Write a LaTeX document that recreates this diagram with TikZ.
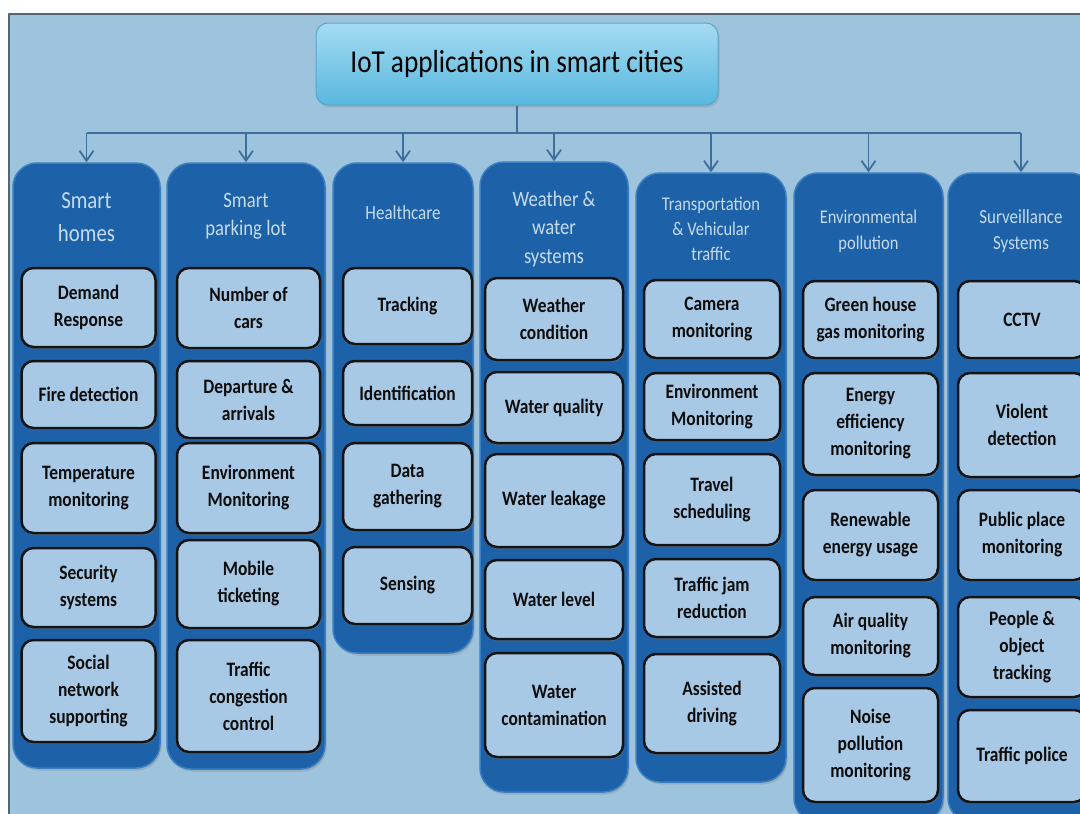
\documentclass[tikz,border=0pt]{standalone}
\usepackage{fontspec}
\setmainfont{Carlito}[FakeStretch=0.85]
\usepackage{tikz}
\usetikzlibrary{arrows.meta,shadows}

\definecolor{bgblue}{HTML}{9DC3DD}
\definecolor{framegray}{HTML}{56656F}
\definecolor{colblue}{HTML}{1D62A8}
\definecolor{coledge}{HTML}{3B7FC2}
\definecolor{itemblue}{HTML}{A8C9E5}
\definecolor{headtext}{HTML}{C6DAED}
\definecolor{linkblue}{HTML}{3D6F9C}
\definecolor{titletop}{HTML}{A4DBF1}
\definecolor{titlebot}{HTML}{58B8DF}
\definecolor{titleedge}{HTML}{5AA5CB}

\begin{document}
\begin{tikzpicture}[x=1pt,y=-1pt,>={Straight Barb[length=10pt,width=14pt]},line join=round]
\tikzstyle{group}=[draw=coledge,line width=1.5pt,fill=colblue,rounded corners=24pt,inner sep=0pt,
                   drop shadow={shadow xshift=1.5pt,shadow yshift=-2.5pt,opacity=0.3}]
\tikzstyle{grouphead}=[text=headtext,align=center,inner sep=0pt]
\tikzstyle{item}=[draw=black!92,line width=2.5pt,fill=itemblue,rounded corners=12pt,align=center,inner sep=2pt,
                  font=\fontsize{20.5}{27}\selectfont\bfseries,text=black!95,
                  drop shadow={shadow xshift=1pt,shadow yshift=-2pt,opacity=0.5}]
\tikzstyle{topic}=[draw=titleedge,line width=1pt,top color=titletop,bottom color=titlebot,rounded corners=12pt,
                   font=\fontsize{32}{38}\selectfont,text=black,
                   drop shadow={shadow xshift=1.5pt,shadow yshift=-2.5pt,opacity=0.25}]
\tikzstyle{link}=[draw=linkblue,line width=1.8pt]

  \useasboundingbox (0,0) rectangle (1080,814);
  \clip (0,0) rectangle (1080,814);
  \fill[white] (0,0) rectangle (1080,814);
  \fill[bgblue] (9,14) rectangle (1080,814);
  \draw[framegray,line width=2.5pt] (9,814) -- (9,14) -- (1080,14);

        \node[topic,minimum width=402pt,minimum height=82pt]     (title)   at (517,64)      {IoT applications in smart cities};

        % columns
        \node[group,minimum width=147pt,minimum height=605pt]    (home)    at (86.5,465.5)  {};
        \node[group,minimum width=158pt,minimum height=606pt]    (park)    at (246,466)     {};
        \node[group,minimum width=140pt,minimum height=490pt]    (health)  at (403,408)     {};
        \node[group,minimum width=148pt,minimum height=630pt]    (water)   at (554,477)     {};
        \node[group,minimum width=150pt,minimum height=609pt]    (traffic) at (711,477.5)   {};
        \node[group,minimum width=149pt,minimum height=649pt]    (env)     at (868.5,497.5) {};
        \node[group,minimum width=146pt,minimum height=649pt]    (surv)    at (1021,497.5)  {};

        \node[grouphead,font=\fontsize{24.5}{33}\selectfont]   (homehd)    at (86.5,217.5) {Smart\\homes};
        \node[grouphead,font=\fontsize{22}{28}\selectfont]     (parkhd)    at (246,216.5)  {Smart\\parking lot};
        \node[grouphead,font=\fontsize{20}{26}\selectfont]     (healthhd)  at (403,213)    {Healthcare};
        \node[grouphead,font=\fontsize{22}{28.5}\selectfont]   (waterhd)   at (554,229)    {Weather \&\\water\\systems};
        \node[grouphead,font=\fontsize{19.4}{25}\selectfont]   (traffichd) at (711,229)    {Transportation\\\& Vehicular\\traffic};
        \node[grouphead,font=\fontsize{19.4}{26}\selectfont]   (envhd)     at (868.5,231)  {Environmental\\pollution};
        \node[grouphead,font=\fontsize{20}{26}\selectfont]     (survhd)    at (1021,231)   {Surveillance\\Systems};

        % items
        \node[item,minimum width=134pt,minimum height=79pt]    (home1)   at (88.5,307.5)  {Demand\\Response};
        \node[item,minimum width=134pt,minimum height=67pt]    (home2)   at (88.5,394.5)  {Fire detection};
        \node[item,minimum width=134pt,minimum height=90pt]    (home3)   at (88.5,488)    {Temperature\\monitoring};
        \node[item,minimum width=134pt,minimum height=79pt]    (home4)   at (88.5,587.5)  {Security\\systems};
        \node[item,minimum width=134pt,minimum height=102pt]   (home5)   at (88.5,691)    {Social\\network\\supporting};

        \node[item,minimum width=143pt,minimum height=80pt]    (park1)   at (248.5,308)   {Number of\\cars};
        \node[item,minimum width=143pt,minimum height=77pt]    (park2)   at (248.5,399.5) {Departure \&\\arrivals};
        \node[item,minimum width=143pt,minimum height=90pt]    (park3)   at (248.5,488)   {Environment\\Monitoring};
        \node[item,minimum width=143pt,minimum height=88pt]    (park4)   at (248.5,584)   {Mobile\\ticketing};
        \node[item,minimum width=143pt,minimum height=112pt]   (park5)   at (248.5,696)   {Traffic\\congestion\\control};

        \node[item,minimum width=129pt,minimum height=76pt]    (health1) at (407.5,306)   {Tracking};
        \node[item,minimum width=129pt,minimum height=64pt]    (health2) at (407.5,393)   {Identification};
        \node[item,minimum width=129pt,minimum height=87pt]    (health3) at (407.5,486.5) {Data\\gathering};
        \node[item,minimum width=129pt,minimum height=77pt]    (health4) at (407.5,585.5) {Sensing};

        \node[item,minimum width=138pt,minimum height=82pt]    (water1)  at (554,319)     {Weather\\condition};
        \node[item,minimum width=138pt,minimum height=71pt]    (water2)  at (554,407.5)   {Water quality};
        \node[item,minimum width=138pt,minimum height=93pt]    (water3)  at (554,500.5)   {Water leakage};
        \node[item,minimum width=138pt,minimum height=79pt]    (water4)  at (554,599.5)   {Water level};
        \node[item,minimum width=138pt,minimum height=104pt]   (water5)  at (554,705)     {Water\\contamination};

        \node[item,minimum width=136pt,minimum height=78pt]    (traffic1) at (712,319)    {Camera\\monitoring};
        \node[item,minimum width=136pt,minimum height=67pt]    (traffic2) at (712,406.5)  {Environment\\Monitoring};
        \node[item,minimum width=136pt,minimum height=91pt]    (traffic3) at (712,499.5)  {Travel\\scheduling};
        \node[item,minimum width=136pt,minimum height=78pt]    (traffic4) at (712,598)    {Traffic jam\\reduction};
        \node[item,minimum width=136pt,minimum height=99pt]    (traffic5) at (712,703.5)  {Assisted\\driving};

        \node[item,minimum width=135pt,minimum height=77pt]    (env1)    at (870.5,319.5) {Green house\\gas monitoring};
        \node[item,minimum width=135pt,minimum height=102pt]   (env2)    at (870.5,424)   {Energy\\efficiency\\monitoring};
        \node[item,minimum width=135pt,minimum height=90pt]    (env3)    at (870.5,535)   {Renewable\\energy usage};
        \node[item,minimum width=135pt,minimum height=78pt]    (env4)    at (870.5,636)   {Air quality\\monitoring};
        \node[item,minimum width=135pt,minimum height=114pt]   (env5)    at (870.5,745)   {Noise\\pollution\\monitoring};

        \node[item,minimum width=128pt,minimum height=77pt]    (surv1)   at (1022,319.5)  {CCTV};
        \node[item,minimum width=128pt,minimum height=104pt]   (surv2)   at (1022,425)    {Violent\\detection};
        \node[item,minimum width=128pt,minimum height=90pt]    (surv3)   at (1022,535)    {Public place\\monitoring};
        \node[item,minimum width=128pt,minimum height=100pt]   (surv4)   at (1022,647)    {People \&\\object\\tracking};
        \node[item,minimum width=128pt,minimum height=92pt]    (surv5)   at (1022,756)    {Traffic police};

        % links
        \coordinate (split) at (517,133);
        \draw[link] (title.south) -- (split);
        \draw[link] (home.north |- split) -- (surv.north |- split);
        \foreach \g in {home,park,health,water,traffic,env,surv}
            \draw[link,->] (\g.north |- split) -- (\g.north);
\end{tikzpicture}
\end{document}
